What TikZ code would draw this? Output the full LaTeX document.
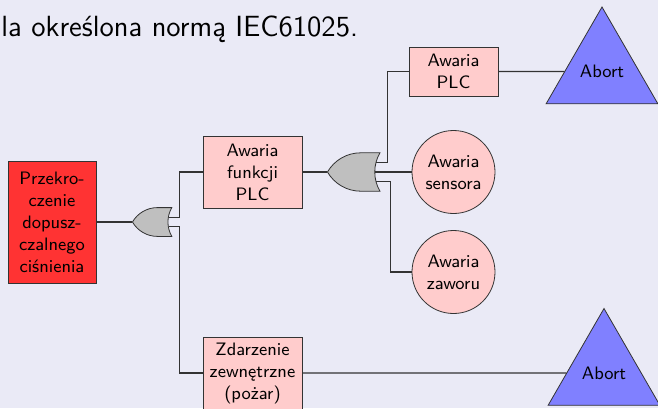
\documentclass[tikz,border=0pt]{standalone}
\usepackage{xcolor}
\usepackage{tikz}
\usetikzlibrary{positioning,shapes.geometric,circuits.logic.US}
\definecolor{SlideBg}{HTML}{EAEAF6}
\definecolor{EdgeGray}{HTML}{333333}
\begin{document}
\begin{tikzpicture}[x=0.5pt, y=-0.5pt, font=\sffamily\small]
\tikzset{event/.style={draw=EdgeGray, fill=red!20, align=center, inner sep=1pt, minimum width=49.5pt, minimum height=36pt}, topevent/.style={draw=EdgeGray, fill=red!80, align=center, inner sep=1pt, minimum width=44pt, minimum height=61pt}, basic/.style={circle, draw=EdgeGray, fill=red!20, align=center, inner sep=0pt, minimum size=41.5pt}, abortnode/.style={regular polygon, regular polygon sides=3, draw=EdgeGray, fill=blue!50, inner sep=0pt, minimum size=64.5pt}, orgate/.style={or gate US, draw=EdgeGray, fill=gray!50, rotate=180, anchor=output, inner sep=0pt, logic gate input sep=4.5pt}, wire/.style={draw=EdgeGray, line width=0.6pt}}
\fill[SlideBg] (0,0) rectangle (658,408);
\useasboundingbox (0,0) rectangle (658,408);
\node[anchor=base west, inner sep=0pt, font=\sffamily\fontsize{14.6}{17}\selectfont] (caption) at (1,36) {la określona normą IEC61025.};
\node[topevent] (przek) at (52,222) {Przekro-\\czenie\\dopusz-\\czalnego\\ciśnienia};
\node[orgate, logic gate inputs=nn] (g1) at (132,222) {};
\node[event] (funkcji) at (252.5,172) {Awaria\\funkcji\\PLC};
\node[event] (zdarz) at (252.5,373) {Zdarzenie\\zewnętrzne\\(pożar)};
\node[orgate, logic gate inputs=nnn] (g2) at (327,172) {};
\node[event, minimum width=44.5pt, minimum height=24.5pt] (plc) at (453.5,71.5) {Awaria\\PLC};
\node[basic] (sensora) at (453.5,172) {Awaria\\sensora};
\node[basic] (zaworu) at (453.5,272) {Awaria\\zaworu};
\node[abortnode] (abort1) at (602,71.5) {Abort};
\node[abortnode] (abort2) at (604,373) {Abort};
\draw[wire] (przek)--(g1.output); \draw[wire] (g1.input 2)--++(11,0)|-(funkcji); \draw[wire] (g1.input 1)--++(11,0)|-(zdarz);
\draw[wire] (funkcji)--(g2.output); \draw[wire] (g2.input 3)--++(11,0)|-(plc); \draw[wire] (g2.input 2)--(sensora); \draw[wire] (g2.input 1)--++(14,0)|-(zaworu);
\draw[wire] (plc)--(abort1); \draw[wire] (zdarz)--(abort2);
\end{tikzpicture}
\end{document}
